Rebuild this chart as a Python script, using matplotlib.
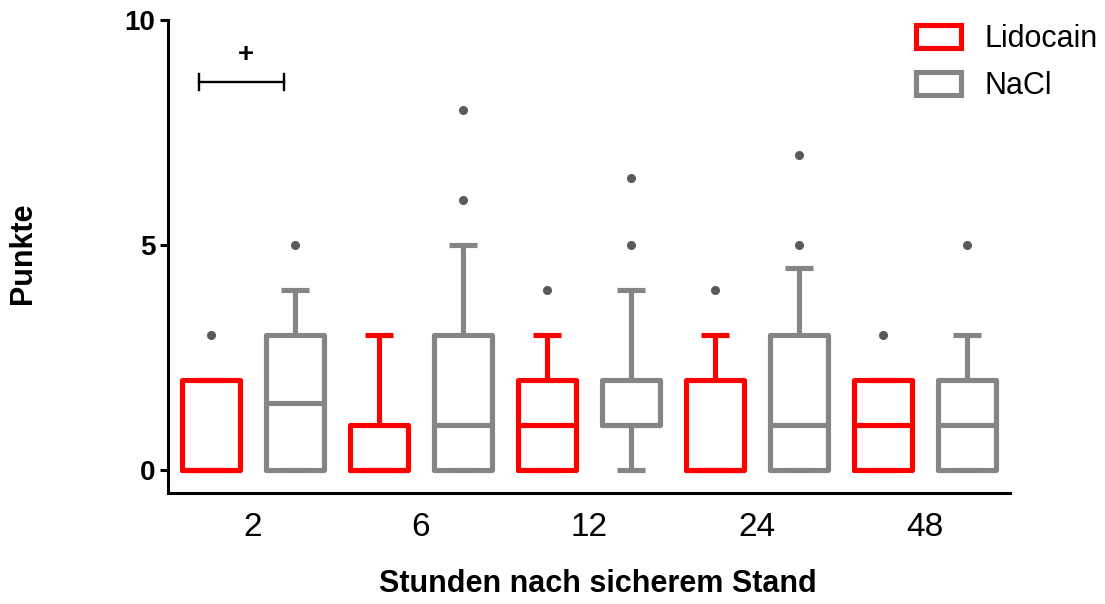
import matplotlib
matplotlib.use("Agg")
import matplotlib.pyplot as plt
from matplotlib.patches import Patch

# ---------------- data ----------------
hours = ["2", "6", "12", "24", "48"]
groups = ["Lidocain", "NaCl"]

# per box statistics
lido_q1 = [0, 0, 0, 0, 0]
lido_med = [0, 0, 1, 0, 1]
lido_q3 = [2, 1, 2, 2, 2]
lido_lo = [0, 0, 0, 0, 0]
lido_hi = [2, 3, 3, 3, 2]
lido_fliers = [[3], [], [4], [4], [3]]

nacl_q1 = [0, 0, 1, 0, 0]
nacl_med = [1.5, 1, 1, 1, 1]
nacl_q3 = [3, 3, 2, 3, 2]
nacl_lo = [0, 0, 0, 0, 0]
nacl_hi = [4, 5, 4, 4.5, 3]
nacl_fliers = [[5], [6, 8], [5, 6.5], [5, 7], [5]]

sig_label = "+"

# ---------------- style ----------------
RED = "#ff0000"
GRAY = "#858585"
DOT = "#5a5a5a"

plt.rcParams["font.family"] = ["Liberation Sans", "DejaVu Sans"]

fig = plt.figure(figsize=(11.05, 6.04), dpi=100)
ax = fig.add_axes([168 / 1105, 111 / 604, 842 / 1105, 473 / 604])


def make_stats(q1, med, q3, lo, hi, fl):
    return [dict(q1=a, med=b, q3=c, whislo=d, whishi=e, fliers=f)
            for a, b, c, d, e, f in zip(q1, med, q3, lo, hi, fl)]


lido_stats = make_stats(lido_q1, lido_med, lido_q3, lido_lo, lido_hi, lido_fliers)
nacl_stats = make_stats(nacl_q1, nacl_med, nacl_q3, nacl_lo, nacl_hi, nacl_fliers)

n = len(hours)
lido_pos = [2 * i for i in range(n)]
nacl_pos = [2 * i + 1 for i in range(n)]
lw = 3.7


def draw(stats, pos, color):
    props = dict(color=color, linewidth=lw, solid_joinstyle="round",
                 solid_capstyle="round")
    cprops = dict(color=color, linewidth=lw, solid_capstyle="butt")
    ax.bxp(stats, positions=pos, widths=0.69, capwidths=0.34,
           showfliers=True,
           boxprops=props, whiskerprops=cprops, capprops=cprops,
           medianprops=cprops,
           flierprops=dict(marker="o", markersize=5.5, markerfacecolor=DOT,
                           markeredgecolor=DOT, linestyle="none"),
           manage_ticks=False)


draw(lido_stats, lido_pos, RED)
draw(nacl_stats, nacl_pos, GRAY)

ax.set_xlim(-0.51, 9.51)
ax.set_ylim(-0.5, 10)

# axes styling
for s in ["top", "right"]:
    ax.spines[s].set_visible(False)
for s in ["left", "bottom"]:
    ax.spines[s].set_linewidth(2.2)

ax.set_yticks([0, 5, 10])
ax.set_yticklabels(["0", "5", "10"], fontsize=20, fontweight="bold")
ax.tick_params(axis="y", length=6, width=2.2, pad=3)

ax.set_xticks([2 * i + 0.5 for i in range(n)])
ax.set_xticklabels(hours, fontsize=24)
ax.tick_params(axis="x", length=0, pad=14)

ax.set_ylabel("Punkte", fontsize=22, fontweight="bold")
ax.yaxis.set_label_coords(-0.154, 0.507)
ax.set_xlabel("Stunden nach sicherem Stand", fontsize=22, fontweight="bold")
ax.xaxis.set_label_coords(0.511, -0.160)

# significance bracket
bx0, bx1, by = -0.14, 0.87, 8.62
ax.plot([bx0, bx1], [by, by], color="black", lw=1.7)
ax.plot([bx0, bx0], [by - 0.18, by + 0.18], color="black", lw=1.7)
ax.plot([bx1, bx1], [by - 0.18, by + 0.18], color="black", lw=1.7)
ax.text(0.42, 9.22, sig_label, ha="center", va="center", fontsize=20,
        fontweight="bold")

# legend
handles = [Patch(facecolor="white", edgecolor=RED, linewidth=3.7,
                 joinstyle="round", label=groups[0]),
           Patch(facecolor="white", edgecolor=GRAY, linewidth=3.7,
                 joinstyle="round", label=groups[1])]
fig.legend(handles=handles, loc="upper left",
           bbox_to_anchor=(916 / 1105, 1 - 24 / 604), frameon=False,
           fontsize=22, handlelength=1.48, handleheight=0.79,
           handletextpad=0.75, labelspacing=0.55, borderpad=0,
           borderaxespad=0)

fig.savefig("out.png", dpi=100)
